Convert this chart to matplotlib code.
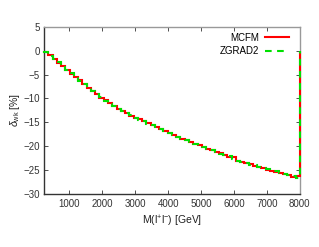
import numpy as np
import matplotlib
matplotlib.use("Agg")
import matplotlib.pyplot as plt

plt.rcParams['font.family'] = ['Liberation Sans', 'DejaVu Sans']
plt.rcParams['mathtext.fontset'] = 'custom'
plt.rcParams['mathtext.rm'] = 'Liberation Sans'
plt.rcParams['mathtext.it'] = 'Liberation Sans:italic'

# bin edges in M(l+l-) [GeV]
xmin, xmax = 232, 8000
edges = np.linspace(xmin, xmax, 61)

mcfm = [-0.3, -0.9, -1.7, -2.5, -3.2, -4.0, -4.8, -5.5, -6.2, -7.0,
        -7.7, -8.4, -9.1, -9.8, -10.4, -11.0, -11.6, -12.1, -12.6, -13.1,
        -13.6, -14.0, -14.4, -14.8, -15.2, -15.6, -16.0, -16.4, -16.8, -17.2,
        -17.6, -18.0, -18.4, -18.8, -19.1, -19.5, -19.8, -20.2, -20.5, -20.9,
        -21.2, -21.5, -21.9, -22.2, -22.3, -23.2, -23.3, -23.6, -23.8, -24.1,
        -24.3, -24.6, -24.9, -25.1, -25.4, -25.6, -25.9, -26.0, -26.4, -26.3]

zgrad2 = [-0.2, -1.0, -1.8, -2.4, -3.3, -4.1, -4.7, -5.6, -6.3, -6.9,
          -7.8, -8.5, -9.0, -9.7, -10.5, -11.1, -11.5, -12.2, -12.7, -13.0,
          -13.5, -14.1, -14.5, -14.8, -15.3, -15.6, -16.1, -16.5, -16.8, -17.3,
          -17.6, -18.1, -18.4, -18.7, -19.2, -19.5, -19.9, -20.1, -20.6, -20.9,
          -21.3, -21.6, -21.8, -22.1, -22.6, -23.0, -23.4, -23.5, -23.9, -24.0,
          -24.4, -24.6, -24.8, -25.2, -25.3, -25.7, -25.8, -26.1, -26.2, -26.7]

fig = plt.figure(figsize=(3.19, 2.47), dpi=100)
ax = fig.add_axes([0.138, 0.215, 0.802, 0.676])

ax.stairs(mcfm, edges, baseline=0, color='#ff0000', lw=1.5, label='MCFM',
          zorder=3, clip_on=False)
ax.stairs(zgrad2, edges, baseline=0, color='#00e000', lw=1.5,
          linestyle=(0, (3.2, 2.6)), label='ZGRAD2', zorder=3, clip_on=False)

ax.set_xlim(xmin, xmax)
ax.set_ylim(-30, 5)
ax.set_xticks(np.arange(1000, 8001, 1000))
ax.set_yticks(np.arange(-30, 6, 5))

ax.tick_params(direction='in', length=3, width=0.6, labelsize=7,
               top=True, right=True, colors='#333333', pad=3)
ax.tick_params(axis='x', pad=4)
for s in ['left', 'bottom']:
    ax.spines[s].set_color('#333333')
for s in ['top', 'right']:
    ax.spines[s].set_color('#999999')
for s in ax.spines.values():
    s.set_linewidth(1.0)

ax.set_xlabel(r'M(l$^{+}$l$^{-}$) [GeV]', fontsize=7.5, color='#222222', labelpad=3)
ax.set_ylabel(r'$\delta_{\rm wk}$ [%]', fontsize=7.5, color='#222222', labelpad=1)

ax.legend(loc='upper right', frameon=False, markerfirst=False, fontsize=7,
          handlelength=2.5, handletextpad=0.6, labelspacing=0.35,
          borderaxespad=0.2, bbox_to_anchor=(0.98, 1.0))

fig.savefig('out.png', dpi=100)
